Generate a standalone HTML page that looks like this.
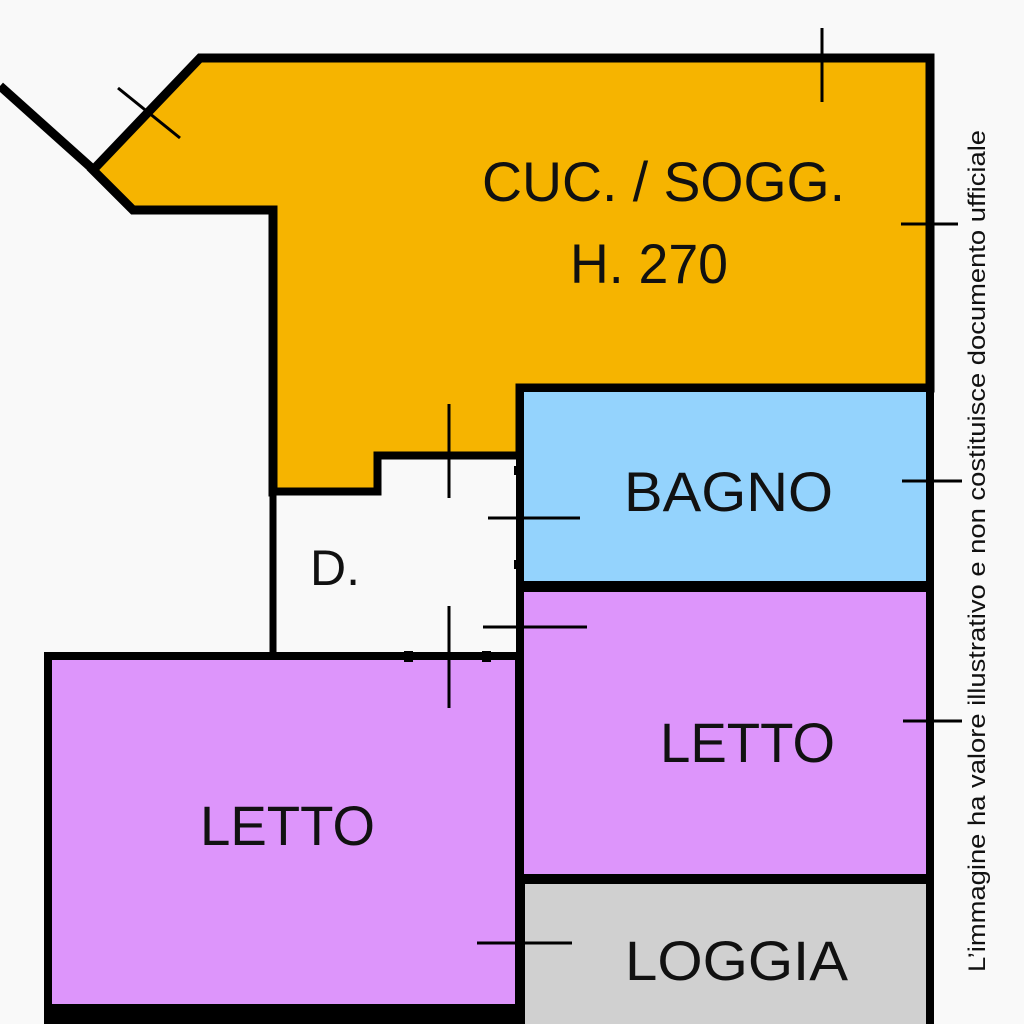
<!DOCTYPE html>
<html><head><meta charset="utf-8"><style>
html,body{margin:0;padding:0;background:#f9f9f9;}
svg{display:block;}
text{font-family:"Liberation Sans","DejaVu Sans",sans-serif;fill:#111;}
</style></head><body>
<svg width="1024" height="1024" viewBox="0 0 1024 1024" xmlns="http://www.w3.org/2000/svg">
<rect width="1024" height="1024" fill="#f9f9f9"/>
<polygon points="200,58 930,58 930,388 520,388 520,456 378,456 378,492 273,492 273,210 133,210 93,170" fill="#f6b400" stroke="#000" stroke-width="9" stroke-linejoin="miter"/>
<line x1="0" y1="86" x2="96" y2="172" stroke="#000" stroke-width="9"/>
<polygon points="273,492 378,492 378,456 520,456 520,656 273,656" fill="#f9f9f9"/>
<polyline points="273,492 273,656" stroke="#000" stroke-width="7" fill="none"/>
<polyline points="273,492 378,492 378,456 520,456" stroke="#000" stroke-width="7" fill="none"/>
<rect x="520" y="388" width="410" height="197" fill="#94d3fd" stroke="#000" stroke-width="8"/>
<rect x="520" y="588" width="410" height="290" fill="#dd95fb" stroke="#000" stroke-width="8"/>
<rect x="521" y="880" width="409" height="160" fill="#d0d0d0" stroke="#000" stroke-width="8"/>
<rect x="48" y="656" width="471" height="380" fill="#dd95fb" stroke="#000" stroke-width="8"/>
<rect x="45" y="1004" width="476" height="20" fill="#000"/>
<rect x="514" y="466" width="9" height="9" fill="#000"/>
<rect x="514" y="560" width="9" height="9" fill="#000"/>
<rect x="404" y="651" width="9" height="11" fill="#000"/>
<rect x="482" y="651" width="9" height="11" fill="#000"/>
<g stroke="#000" stroke-width="3">
<line x1="118" y1="88" x2="180" y2="138"/>
<line x1="822" y1="28" x2="822" y2="102"/>
<line x1="901" y1="224" x2="958" y2="224"/>
<line x1="449" y1="404" x2="449" y2="498"/>
<line x1="488" y1="518" x2="580" y2="518"/>
<line x1="483" y1="627" x2="587" y2="627"/>
<line x1="449" y1="606" x2="449" y2="708"/>
<line x1="902" y1="481" x2="962" y2="481"/>
<line x1="903" y1="721" x2="962" y2="721"/>
<line x1="477" y1="943" x2="572" y2="943"/>
</g>
<text x="482" y="201" font-size="56" textLength="363" lengthAdjust="spacingAndGlyphs">CUC. / SOGG.</text>
<text x="570" y="283" font-size="56" textLength="158" lengthAdjust="spacingAndGlyphs">H. 270</text>
<text x="624" y="511" font-size="56" textLength="209" lengthAdjust="spacingAndGlyphs">BAGNO</text>
<text x="660" y="762" font-size="56" textLength="175" lengthAdjust="spacingAndGlyphs">LETTO</text>
<text x="200" y="845" font-size="56" textLength="175" lengthAdjust="spacingAndGlyphs">LETTO</text>
<text x="625" y="980" font-size="56" textLength="223" lengthAdjust="spacingAndGlyphs">LOGGIA</text>
<text x="310" y="585" font-size="50" textLength="50" lengthAdjust="spacingAndGlyphs">D.</text>
<text transform="translate(985,972) rotate(-90)" font-size="24" textLength="842" lengthAdjust="spacingAndGlyphs">L’immagine ha valore illustrativo e non costituisce documento ufficiale</text>
</svg>
</body></html>
